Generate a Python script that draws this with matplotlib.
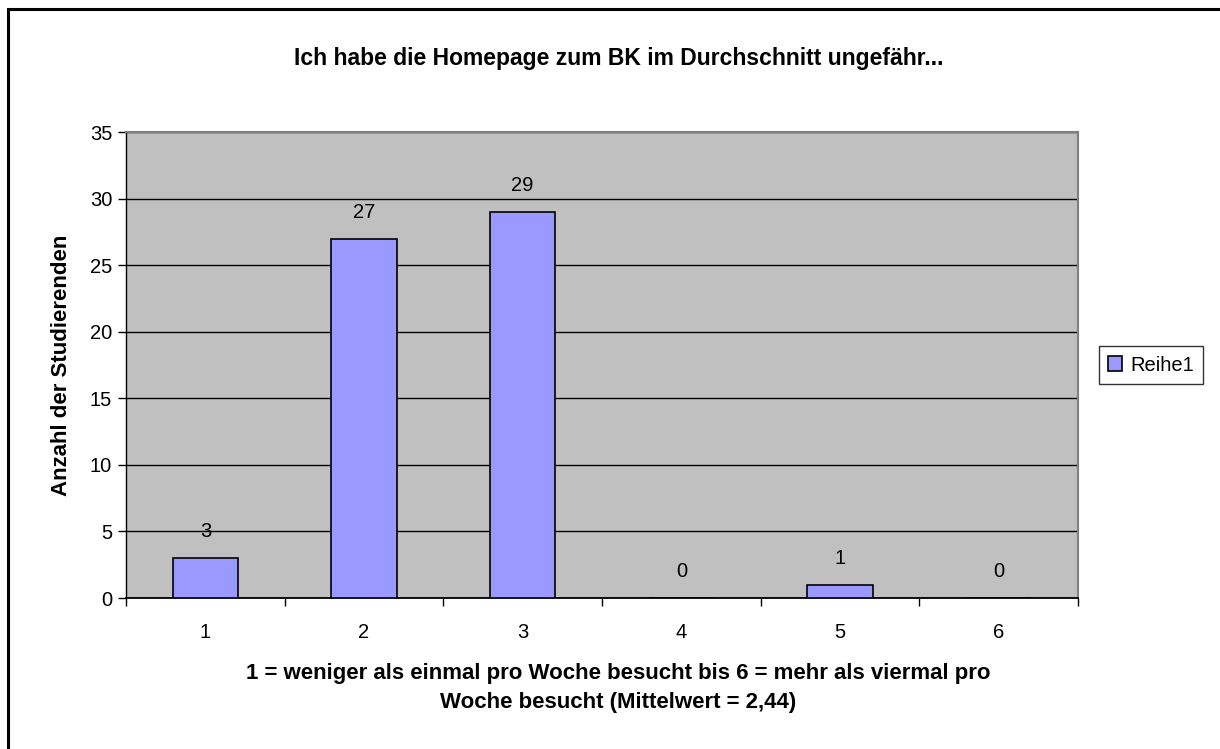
import matplotlib
matplotlib.use("Agg")
import matplotlib.pyplot as plt
from matplotlib.patches import Rectangle

# Data
categories = [1, 2, 3, 4, 5, 6]
values = [3, 27, 29, 0, 1, 0]
series_name = "Reihe1"
title = "Ich habe die Homepage zum BK im Durchschnitt ungefähr..."
xlabel = "1 = weniger als einmal pro Woche besucht bis 6 = mehr als viermal pro\nWoche besucht (Mittelwert = 2,44)"
ylabel = "Anzahl der Studierenden"

plt.rcParams['font.family'] = ['Liberation Sans', 'DejaVu Sans']

W, H = 1220, 749
fig = plt.figure(figsize=(W / 100, H / 100), dpi=100)

# chart border (right/bottom run off the image)
fig.patches.append(Rectangle((8 / W, -0.05), 1.1, 1 - 8.5 / H + 0.05, transform=fig.transFigure,
                             fill=False, edgecolor='black', linewidth=2.2))

ax = fig.add_axes([126 / W, 1 - 598 / H, (1078 - 126) / W, (598 - 132) / H])
ax.set_facecolor('#C0C0C0')

bars = ax.bar(categories, values, width=0.41, color='#9999FF', edgecolor='black',
              linewidth=1.2, label=series_name, zorder=3)
for x, v in zip(categories, values):
    ax.annotate(str(v), (x, v), xytext=(0, 19), textcoords='offset points',
                ha='center', va='center', fontsize=14.5, zorder=4)

ax.set_xlim(0.5, 6.5)
ax.set_ylim(0, 35)
ax.set_yticks(range(0, 36, 5))
ax.yaxis.grid(True, color='black', linewidth=1)
ax.set_axisbelow(True)

# boundary ticks without labels, labels in the middle of each category
ax.set_xticks([c - 0.5 for c in categories] + [categories[-1] + 0.5])
ax.set_xticklabels([])
ax.set_xticks(categories, minor=True)
ax.set_xticklabels([str(c) for c in categories], minor=True)
ax.tick_params(axis='x', which='major', length=6, width=1, color='black', direction='out')
ax.tick_params(axis='x', which='minor', length=0, labelsize=14.5, pad=18)
ax.tick_params(axis='y', length=6, width=1, labelsize=14.5, direction='out', pad=4)

for s in ['top', 'right']:
    ax.spines[s].set_color('#808080')
    ax.spines[s].set_linewidth(1.5)
ax.spines['bottom'].set_color('black')
ax.spines['bottom'].set_linewidth(1.3)
ax.spines['left'].set_color('black')
ax.spines['left'].set_linewidth(1)

fig.text(619 / W, 1 - 58 / H, title, ha='center', va='center', fontsize=16.5, fontweight='bold')
fig.text(618 / W, 1 - 688 / H, xlabel, ha='center', va='center', fontsize=16,
         fontweight='bold', linespacing=1.45)
fig.text(62 / W, 1 - 365 / H, ylabel, ha='center', va='center', rotation=90,
         fontsize=16, fontweight='bold')

leg = fig.legend(handles=[bars], labels=[series_name], loc='center',
                 bbox_to_anchor=(1151 / W, 1 - 365 / H), fontsize=14.5, frameon=True,
                 fancybox=False, edgecolor='black', handlelength=0.7, handleheight=0.7,
                 handletextpad=0.4, borderpad=0.45, borderaxespad=0)
leg.get_frame().set_linewidth(1)

fig.savefig('out.png', dpi=100)
